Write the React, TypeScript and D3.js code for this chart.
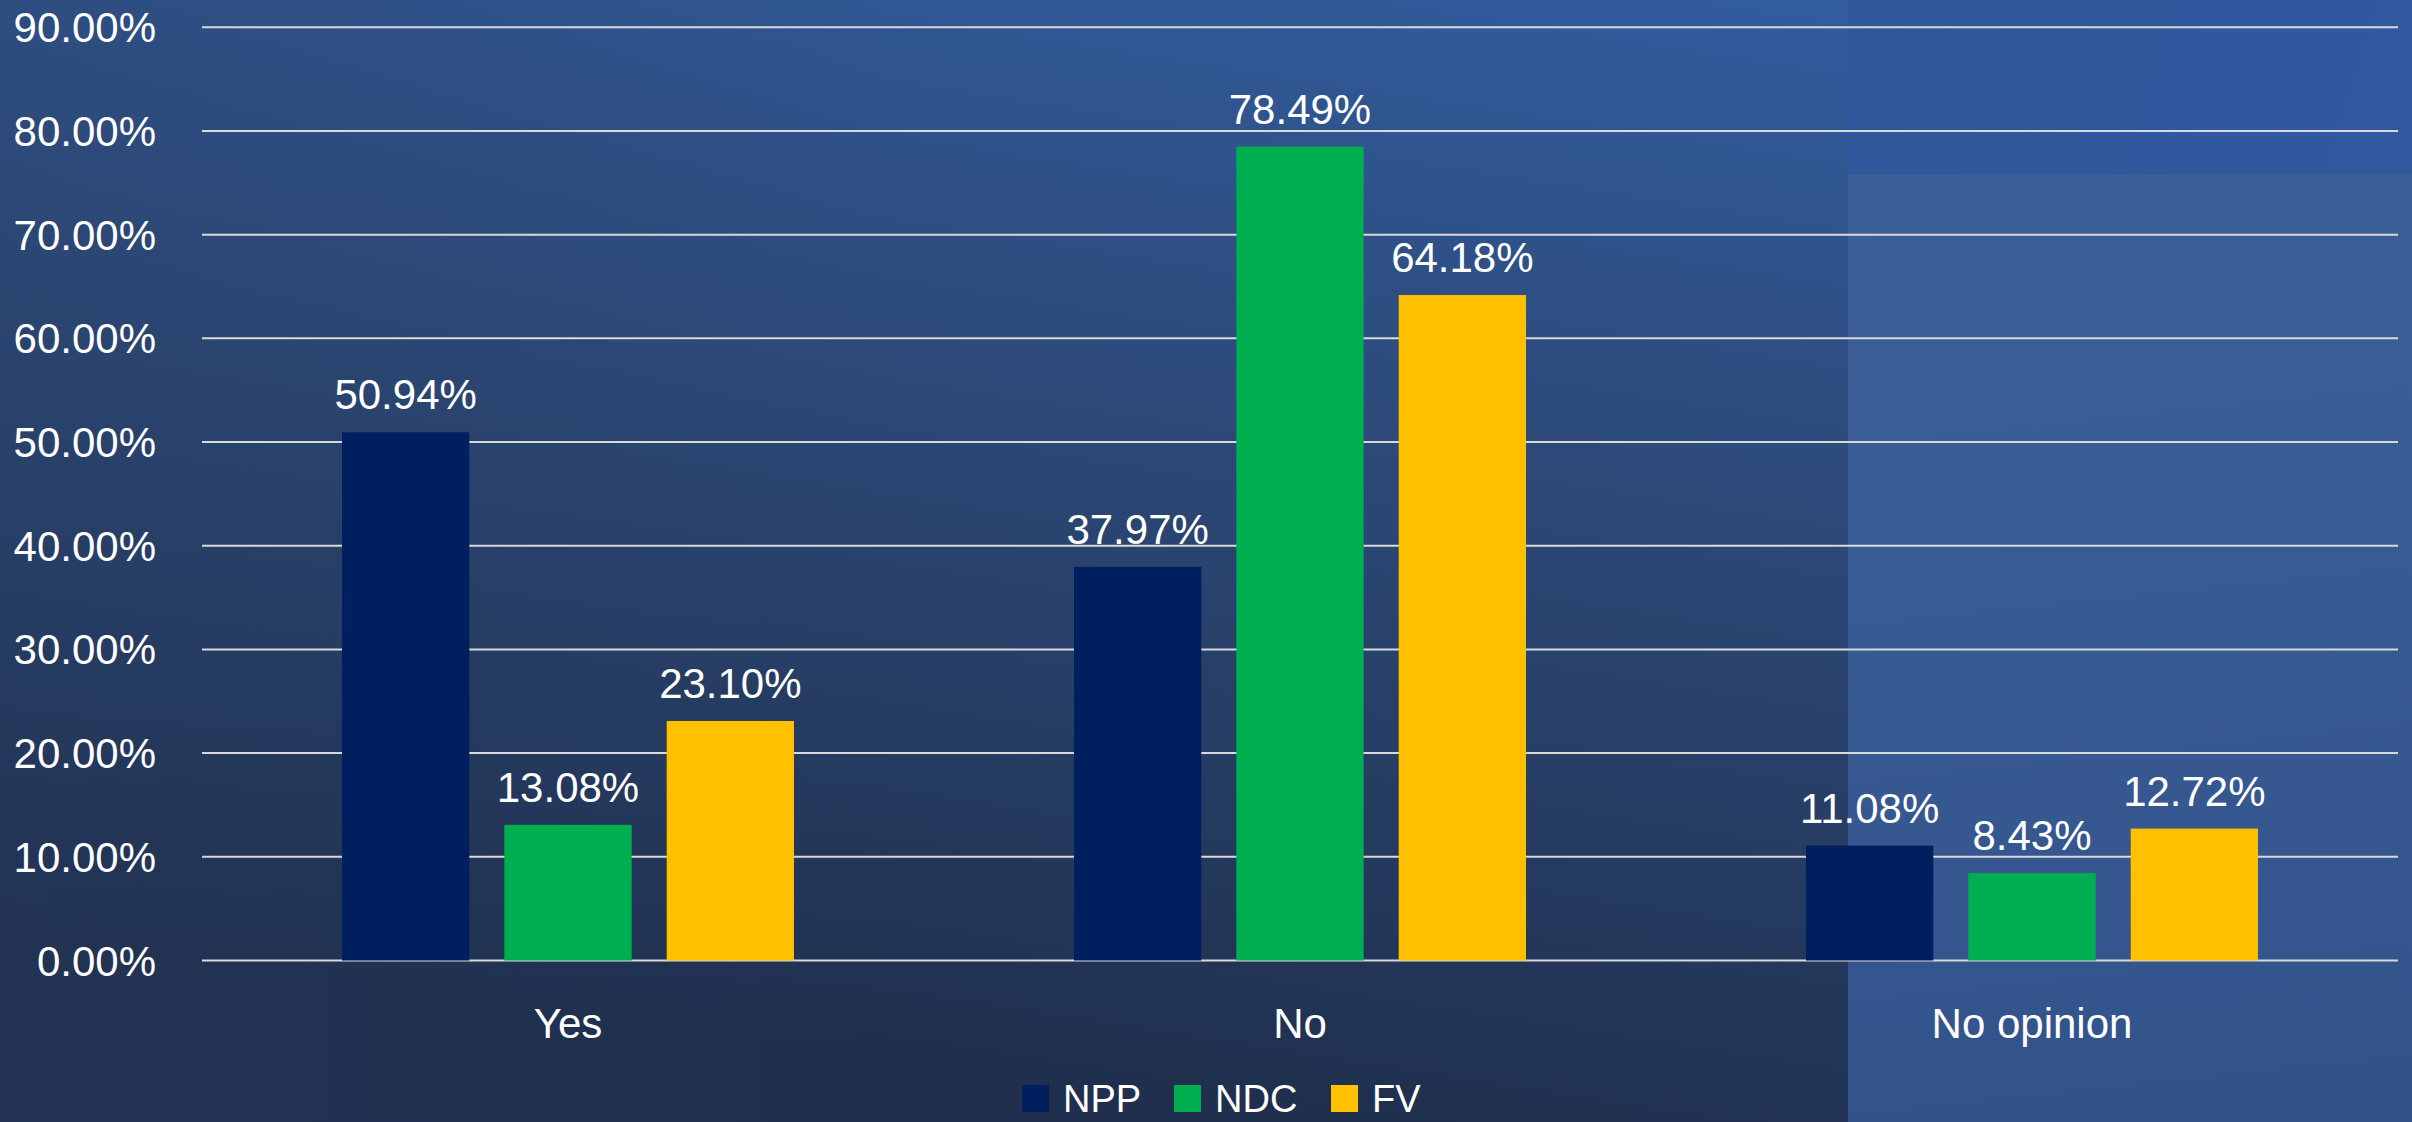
import React from "react";
import * as d3 from "d3";

const categories = ["Yes", "No", "No opinion"];
const seriesNames = ["NPP", "NDC", "FV"];
const seriesColors = ["#001f5f", "#00b050", "#ffc000"];
const nppValues = [50.94, 37.97, 11.08];
const ndcValues = [13.08, 78.49, 8.43];
const fvValues = [23.1, 64.18, 12.72];
const yTicks = [0, 10, 20, 30, 40, 50, 60, 70, 80, 90];

const W = 2412;
const H = 1122;
const FONT = "'Liberation Sans', Arial, sans-serif";

export default function App() {
  const seriesValues = [nppValues, ndcValues, fvValues];
  const y = d3.scaleLinear().domain([0, 90]).range([960.5, 27.3]);
  const x0 = d3.scaleBand<string>().domain(categories).range([202, 2398]).padding(0);
  const groupW = 452;
  const x1 = d3.scaleBand<string>().domain(seriesNames).range([0, groupW]).paddingInner(0.216).paddingOuter(0);
  const fmt = d3.format(".2f");

  return (
    <svg width={W} height={H} style={{ position: "absolute", left: 0, top: 0 }} xmlns="http://www.w3.org/2000/svg">
      <defs>
        <linearGradient id="bg" gradientUnits="userSpaceOnUse" x1="1500" y1="-150" x2="1300" y2="1122">
          <stop offset="0" stopColor="#3260a6" />
          <stop offset="0.45" stopColor="#2d4a7a" />
          <stop offset="1" stopColor="#1f2f4d" />
        </linearGradient>
        <linearGradient id="bgLeft" gradientUnits="userSpaceOnUse" x1="0" y1="0" x2="900" y2="0">
          <stop offset="0" stopColor="#2a4068" stopOpacity="0.25" />
          <stop offset="1" stopColor="#2a4068" stopOpacity="0" />
        </linearGradient>
        <linearGradient id="panel" gradientUnits="userSpaceOnUse" x1="2000" y1="174" x2="2100" y2="1122">
          <stop offset="0" stopColor="#3c5f98" />
          <stop offset="0.5" stopColor="#385a92" />
          <stop offset="1" stopColor="#32528a" />
        </linearGradient>
        <linearGradient id="topStrip" gradientUnits="userSpaceOnUse" x1="1848" y1="0" x2="2412" y2="174">
          <stop offset="0" stopColor="#30569a" />
          <stop offset="1" stopColor="#3159a0" />
        </linearGradient>
      </defs>
      <rect x={0} y={0} width={W} height={H} fill="url(#bg)" />
      <rect x={0} y={0} width={W} height={H} fill="url(#bgLeft)" />
      <rect x={1848} y={174} width={W - 1848} height={H - 174} fill="url(#panel)" />
      <rect x={1848} y={0} width={W - 1848} height={174} fill="url(#topStrip)" />

      {yTicks.map((t) => (
        <g key={t}>
          <line x1={202} x2={2398} y1={y(t)} y2={y(t)} stroke="#d9d9d9" strokeWidth={2} />
          <text x={156} y={y(t) + 15} textAnchor="end" fill="#ffffff" fontSize={42} fontFamily={FONT}>
            {fmt(t) + "%"}
          </text>
        </g>
      ))}

      {categories.map((c, ci) => {
        const gx = (x0(c) as number) + (x0.bandwidth() - groupW) / 2;
        return (
          <g key={c}>
            {seriesNames.map((s, si) => {
              const v = seriesValues[si][ci];
              const bx = gx + (x1(s) as number);
              const bw = x1.bandwidth();
              return (
                <g key={s}>
                  <rect x={bx} y={y(v)} width={bw} height={y(0) - y(v)} fill={seriesColors[si]} />
                  <text x={bx + bw / 2} y={y(v) - 23} textAnchor="middle" fill="#ffffff" fontSize={42} fontFamily={FONT}>
                    {fmt(v) + "%"}
                  </text>
                </g>
              );
            })}
            <text x={(x0(c) as number) + x0.bandwidth() / 2} y={1038} textAnchor="middle" fill="#ffffff" fontSize={42} fontFamily={FONT}>
              {c}
            </text>
          </g>
        );
      })}

      {seriesNames.map((s, si) => {
        const lx = [1022, 1174, 1331][si];
        return (
          <g key={s}>
            <rect x={lx} y={1085} width={27} height={27} fill={seriesColors[si]} />
            <text x={lx + 41} y={1112} fill="#ffffff" fontSize={38} fontFamily={FONT}>
              {s}
            </text>
          </g>
        );
      })}
    </svg>
  );
}
